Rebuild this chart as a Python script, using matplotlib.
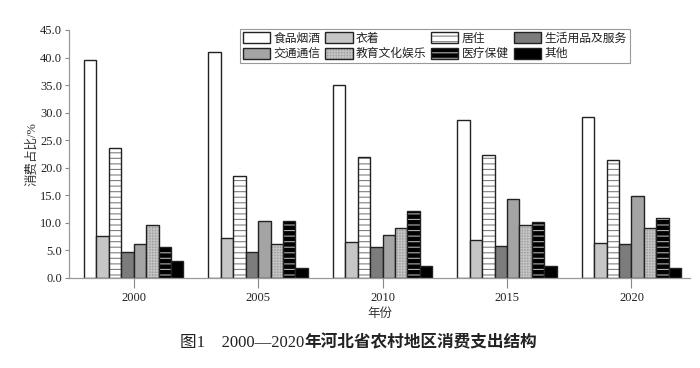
import numpy as np
import matplotlib
matplotlib.use("Agg")
import matplotlib.pyplot as plt

plt.rcParams['font.family'] = ['Liberation Serif', 'Noto Sans CJK SC']
plt.rcParams['hatch.linewidth'] = 0.8

years = ['2000', '2005', '2010', '2015', '2020']
categories = ['食品烟酒', '衣着', '居住', '生活用品及服务',
              '交通通信', '教育文化娱乐', '医疗保健', '其他']
food = [39.5, 41.0, 35.1, 28.6, 29.2]
clothing = [7.6, 7.2, 6.5, 6.9, 6.3]
housing = [23.6, 18.5, 21.9, 22.3, 21.4]
daily = [4.8, 4.7, 5.6, 5.8, 6.1]
transport = [6.2, 10.4, 7.8, 14.4, 14.9]
education = [9.6, 6.2, 9.0, 9.6, 9.1]
medical = [5.7, 10.3, 12.1, 10.2, 10.9]
other = [3.0, 1.8, 2.1, 2.1, 1.8]
series = [food, clothing, housing, daily, transport, education, medical, other]

# (facecolor, hatch, hatch colour)
styles = [
    ('white', None, None),
    ('#c6c6c6', None, None),
    ('white', '---', '#808080'),
    ('#7c7c7c', None, None),
    ('#a4a4a4', None, None),
    ('#a0a0a0', '++++++', '#c4c4c4'),
    ('black', '---', '#b0b0b0'),
    ('black', None, None),
]

fig = plt.figure(figsize=(7, 3.68), dpi=100)
ax = fig.add_axes([0.0986, 0.2446, 0.887, 0.674])

x = np.arange(len(years))
w = 0.1
handles = []
for i, (vals, (fc, hatch, hc)) in enumerate(zip(series, styles)):
    pos = x + (i - 3.5) * w
    if hatch:
        b1 = ax.bar(pos, vals, w, color=fc, hatch=hatch, edgecolor=hc, linewidth=0)
        b2 = ax.bar(pos, vals, w, fill=False, edgecolor='#222222', linewidth=1.0)
        handles.append((b1[0], b2[0]))
    else:
        b = ax.bar(pos, vals, w, color=fc, edgecolor='#222222', linewidth=1.0)
        handles.append(b[0])

ax.set_xlim(-0.52, 4.47)
ax.set_ylim(0, 45)
ax.set_yticks(np.arange(0, 45.1, 5))
ax.set_yticklabels([f'{v:.1f}' for v in np.arange(0, 45.1, 5)])
ax.set_xticks(x)
ax.set_xticklabels(years)
ax.tick_params(axis='y', length=3, width=0.8, color='#888888', labelsize=9, pad=2,
               labelcolor='#222222')
ax.tick_params(axis='x', length=7, width=0.8, color='#888888', labelsize=9, pad=3,
               labelcolor='#222222')
for s in ['top', 'right']:
    ax.spines[s].set_visible(False)
for s in ['left', 'bottom']:
    ax.spines[s].set_color('#999999')
    ax.spines[s].set_linewidth(0.9)

ax.set_xlabel('年份', fontsize=9, color='#333333', labelpad=3)
ax.set_ylabel('消费占比/%', fontsize=9, color='#333333', labelpad=1)

order = [0, 4, 1, 5, 2, 6, 3, 7]
leg = ax.legend([handles[k] for k in order], [categories[k] for k in order],
                ncol=4, loc='upper left', bbox_to_anchor=(240 / 700, 1 - 29 / 368),
                bbox_transform=fig.transFigure, fontsize=8.5, frameon=True,
                fancybox=False, edgecolor='#999999', framealpha=1,
                handlelength=2.3, handleheight=1.1, handletextpad=0.3,
                columnspacing=0.4, labelspacing=0.25, borderpad=0.25,
                borderaxespad=0)
leg.get_frame().set_linewidth(0.8)
for t in leg.get_texts():
    t.set_color('#222222')

# caption: digits regular, Chinese part bold
cap_y = 1 - 343 / 368
t1 = fig.text(180 / 700, cap_y, '图1　2000—2020', ha='left', va='center',
              fontsize=12, color='#222222')
fig.canvas.draw()
bb = t1.get_window_extent()
fig.text(bb.x1 / fig.bbox.width, cap_y, '年河北省农村地区消费支出结构',
         ha='left', va='center', fontsize=12, fontweight='bold', color='#222222')

fig.savefig('out.png', dpi=100)
